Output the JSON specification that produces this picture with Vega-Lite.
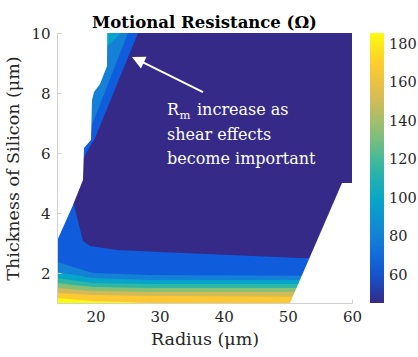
{
  "$schema": "https://vega.github.io/schema/vega-lite/v6.json",
  "width": 295,
  "height": 270,
  "autosize": {"type": "none"},
  "padding": {"left": 57, "top": 33, "right": 66, "bottom": 54},
  "background": "white",
  "title": {"text": "Motional Resistance (Ω)", "font": "DejaVu Serif", "fontSize": 16.5, "fontWeight": "bold", "color": "#000000", "anchor": "middle", "frame": "group", "baseline": "bottom", "offset": -21},
  "config": {"view": {"stroke": null, "fill": "#352a87"}, "font": "DejaVu Serif"},
  "datasets": {
    "bottom": [
      {"lvl": 63.5, "r": 14.0, "t": 4.27}, {"lvl": 63.5, "r": 16.65, "t": 4.27}, {"lvl": 63.5, "r": 17.43, "t": 3.6}, {"lvl": 63.5, "r": 18.05, "t": 3.07}, {"lvl": 63.5, "r": 19.15, "t": 2.9}, {"lvl": 63.5, "r": 23.36, "t": 2.77}, {"lvl": 63.5, "r": 30.06, "t": 2.7}, {"lvl": 63.5, "r": 40.98, "t": 2.6}, {"lvl": 63.5, "r": 51.89, "t": 2.5}, {"lvl": 63.5, "r": 60.0, "t": 2.5},
      {"lvl": 81, "r": 14.0, "t": 2.37}, {"lvl": 81, "r": 19.61, "t": 2.0}, {"lvl": 81, "r": 28.5, "t": 1.93}, {"lvl": 81, "r": 60.0, "t": 1.9},
      {"lvl": 98.5, "r": 14.0, "t": 2.03}, {"lvl": 98.5, "r": 19.61, "t": 1.83}, {"lvl": 98.5, "r": 28.5, "t": 1.77}, {"lvl": 98.5, "r": 60.0, "t": 1.77},
      {"lvl": 116, "r": 14.0, "t": 1.83}, {"lvl": 116, "r": 19.61, "t": 1.67}, {"lvl": 116, "r": 28.5, "t": 1.63}, {"lvl": 116, "r": 60.0, "t": 1.63},
      {"lvl": 133.5, "r": 14.0, "t": 1.67}, {"lvl": 133.5, "r": 19.61, "t": 1.53}, {"lvl": 133.5, "r": 28.5, "t": 1.5}, {"lvl": 133.5, "r": 60.0, "t": 1.5},
      {"lvl": 151, "r": 14.0, "t": 1.5}, {"lvl": 151, "r": 19.61, "t": 1.4}, {"lvl": 151, "r": 28.5, "t": 1.37}, {"lvl": 151, "r": 60.0, "t": 1.37},
      {"lvl": 168.5, "r": 14.0, "t": 1.33}, {"lvl": 168.5, "r": 19.61, "t": 1.27}, {"lvl": 168.5, "r": 28.5, "t": 1.23}, {"lvl": 168.5, "r": 60.0, "t": 1.2},
      {"lvl": 186, "r": 14.0, "t": 1.17}, {"lvl": 186, "r": 19.61, "t": 1.07}, {"lvl": 186, "r": 28.5, "t": 1.0}, {"lvl": 186, "r": 60.0, "t": 1.0}
    ],
    "left": [
      {"lvl": 63.5, "r": 26.63, "t": 10}, {"lvl": 63.5, "r": 19.93, "t": 6.5}, {"lvl": 63.5, "r": 18.83, "t": 6.1}, {"lvl": 63.5, "r": 17.59, "t": 5.6},
      {"lvl": 81, "r": 25.07, "t": 10}, {"lvl": 81, "r": 19.15, "t": 6.77}, {"lvl": 81, "r": 18.52, "t": 6.43},
      {"lvl": 98.5, "r": 23.98, "t": 10}, {"lvl": 98.5, "r": 22.89, "t": 9.77}, {"lvl": 98.5, "r": 21.95, "t": 9.57}
    ],
    "whiteL": [
      {"r": 14.0, "t": 3.07}, {"r": 16.49, "t": 4.27}, {"r": 18.05, "t": 5.1}, {"r": 18.21, "t": 6.17}, {"r": 19.3, "t": 6.43}, {"r": 19.46, "t": 7.77}, {"r": 19.77, "t": 8.03}, {"r": 20.71, "t": 8.3}, {"r": 21.8, "t": 8.9}, {"r": 21.83, "t": 10}
    ],
    "whiteR": [
      {"r": 50.33, "t": 1}, {"r": 58.44, "t": 5}, {"r": 60, "t": 5}
    ],
    "arrow": [{"r": 36.77, "t": 8.03, "r2": 26.94, "t2": 9.07}],
    "head": [{"r": 26.61, "t": 9.107}],
    "notes": [
      {"txt": "R", "r": 31.15, "t": 7.267},
      {"txt": "increase as", "r": 35.83, "t": 7.267},
      {"txt": "shear effects", "r": 31.15, "t": 6.433},
      {"txt": "become important", "r": 31.15, "t": 5.633}
    ],
    "sub": [{"txt": "m", "r": 33.1, "t": 7.133}]
  },
  "encoding": {
    "x": {"field": "r", "type": "quantitative", "stack": null,
      "scale": {"domain": [14, 60], "nice": false, "zero": false},
      "axis": {"values": [20, 30, 40, 50, 60], "title": "Radius (μm)", "titleFont": "DejaVu Serif", "titleFontSize": 17.5, "titleFontWeight": "normal", "titleColor": "#262626", "titlePadding": 6,
        "labelFont": "DejaVu Serif", "labelFontSize": 15, "labelColor": "#262626", "labelPadding": 10, "labelFlush": false, "labelOverlap": false,
        "domainColor": "#d0d0d0", "tickColor": "#d0d0d0", "tickSize": -4, "grid": false, "zindex": 0}},
    "y": {"field": "t", "type": "quantitative", "stack": null,
      "scale": {"domain": [1, 10], "nice": false, "zero": false},
      "axis": {"values": [2, 4, 6, 8, 10], "title": "Thickness of Silicon (μm)", "titleFont": "DejaVu Serif", "titleFontSize": 17.5, "titleFontWeight": "normal", "titleColor": "#262626", "titlePadding": 8,
        "labelFont": "DejaVu Serif", "labelFontSize": 15, "labelColor": "#262626", "labelPadding": 11, "labelFlush": false, "labelOverlap": false,
        "domainColor": "#d0d0d0", "tickColor": "#d0d0d0", "tickSize": -4, "grid": false, "zindex": 1}}
  },
  "layer": [
    {
      "data": {"name": "bottom"},
      "mark": {"type": "area", "clip": true, "interpolate": "linear"},
      "encoding": {
        "y2": {"datum": 1},
        "detail": {"field": "lvl", "type": "nominal"},
        "color": {"field": "lvl", "type": "quantitative",
          "scale": {"type": "linear", "domain": [46, 63.5, 81, 98.5, 116, 133.5, 151, 168.5, 186], "range": ["#352a87", "#0f5cdd", "#1481d6", "#06a4ca", "#2eb7a4", "#87bf77", "#d1bb59", "#fec832", "#f9fb0e"], "interpolate": "rgb"},
          "legend": {"orient": "none", "legendX": 313, "legendY": 0, "direction": "vertical", "gradientLength": 270, "gradientThickness": 14, "title": null, "values": [60, 80, 100, 120, 140, 160, 180], "labelFont": "DejaVu Serif", "labelFontSize": 14.5, "labelColor": "#262626", "labelOffset": 5, "gradientStrokeWidth": 0, "labelOverlap": false, "padding": 0}}
      }
    },
    {
      "data": {"name": "left"},
      "mark": {"type": "area", "orient": "horizontal", "clip": true, "interpolate": "linear"},
      "encoding": {
        "x2": {"datum": 14},
        "detail": {"field": "lvl", "type": "nominal"},
        "color": {"field": "lvl", "type": "quantitative",
          "scale": {"type": "linear", "domain": [46, 63.5, 81, 98.5, 116, 133.5, 151, 168.5, 186], "range": ["#352a87", "#0f5cdd", "#1481d6", "#06a4ca", "#2eb7a4", "#87bf77", "#d1bb59", "#fec832", "#f9fb0e"], "interpolate": "rgb"},
          "legend": {"orient": "none", "legendX": 313, "legendY": 0, "direction": "vertical", "gradientLength": 270, "gradientThickness": 14, "title": null, "values": [60, 80, 100, 120, 140, 160, 180], "labelFont": "DejaVu Serif", "labelFontSize": 14.5, "labelColor": "#262626", "labelOffset": 5, "gradientStrokeWidth": 0, "labelOverlap": false, "padding": 0}}
      }
    },
    {
      "data": {"name": "whiteL"},
      "mark": {"type": "area", "clip": true, "fill": "white", "interpolate": "linear"},
      "encoding": {"y2": {"datum": 10}}
    },
    {
      "data": {"name": "whiteR"},
      "mark": {"type": "area", "clip": true, "fill": "white", "interpolate": "linear"},
      "encoding": {"y2": {"datum": 1}}
    },
    {
      "data": {"name": "arrow"},
      "mark": {"type": "rule", "color": "white", "strokeWidth": 2},
      "encoding": {"x2": {"field": "r2"}, "y2": {"field": "t2"}}
    },
    {
      "data": {"name": "head"},
      "mark": {"type": "point", "filled": true, "color": "white", "opacity": 1, "size": 169, "angle": 295.6, "shape": "M0,-1L1,1L-1,1Z"},
      "encoding": {}
    },
    {
      "data": {"name": "notes"},
      "mark": {"type": "text", "align": "left", "baseline": "alphabetic", "color": "white", "font": "DejaVu Serif", "fontSize": 16},
      "encoding": {"text": {"field": "txt"}}
    },
    {
      "data": {"name": "sub"},
      "mark": {"type": "text", "align": "left", "baseline": "alphabetic", "color": "white", "font": "DejaVu Serif", "fontSize": 11.5},
      "encoding": {"text": {"field": "txt"}}
    }
  ]
}
